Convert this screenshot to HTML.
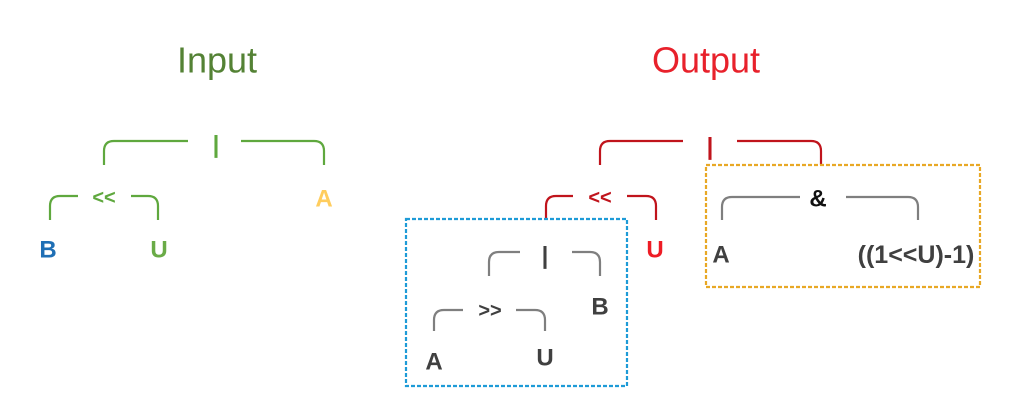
<!DOCTYPE html>
<html><head><meta charset="utf-8"><style>
html,body{margin:0;padding:0;background:#fff;width:1024px;height:416px;overflow:hidden}
svg{display:block}
text{font-family:"Liberation Sans",sans-serif;text-anchor:middle;dominant-baseline:central}
</style></head><body>
<svg width="1024" height="416" viewBox="0 0 1024 416" xmlns="http://www.w3.org/2000/svg">
<g fill="none" stroke-width="2.2">
 <path d="M188 141 H114 Q104 141 104 151 V165" stroke="#5fa83e"/>
 <path d="M241 141 H314 Q324 141 324 151 V165" stroke="#5fa83e"/>
 <path d="M78 196 H60 Q50 196 50 206 V220" stroke="#5fa83e"/>
 <path d="M131 196 H148 Q158 196 158 206 V220" stroke="#5fa83e"/>
 <path d="M683 141 H610 Q600 141 600 151 V165" stroke="#c0141c"/>
 <path d="M737 141 H811 Q821 141 821 151 V165" stroke="#c0141c"/>
 <path d="M573 196 H556 Q546 196 546 206 V219" stroke="#c0141c"/>
 <path d="M627 196 H646 Q656 196 656 206 V220" stroke="#c0141c"/>
 <path d="M800 197 H732 Q722 197 722 207 V220" stroke="#7f7f7f"/>
 <path d="M846 197 H908 Q918 197 918 207 V220" stroke="#7f7f7f"/>
 <path d="M520 252 H499 Q489 252 489 262 V276" stroke="#7f7f7f"/>
 <path d="M572 252 H590 Q600 252 600 262 V276" stroke="#7f7f7f"/>
 <path d="M463 310 H444 Q434 310 434 320 V331" stroke="#7f7f7f"/>
 <path d="M516 310 H535 Q545 310 545 320 V331" stroke="#7f7f7f"/>
 <rect x="706" y="165" width="274" height="122" stroke="#e8a825" stroke-dasharray="4,2"/>
 <rect x="406" y="219" width="221" height="167" stroke="#1e9bd7" stroke-dasharray="4,2"/>
</g>
<text x="217" y="60" font-size="36" fill="#548235">Input</text>
<text x="706" y="60" font-size="36" fill="#e8212b">Output</text>
<g font-weight="bold" font-size="24">
 <text x="216" y="145" fill="#5fa83e">|</text>
 <text x="104" y="198" fill="#5fa83e" font-size="20">&lt;&lt;</text>
 <text x="48" y="250" fill="#1f6fb5">B</text>
 <text x="159" y="250" fill="#6aab47">U</text>
 <text x="324" y="199" fill="#ffcd5e">A</text>
 <text x="710" y="147" fill="#c0141c">|</text>
 <text x="600" y="198" fill="#c0141c" font-size="20">&lt;&lt;</text>
 <text x="655" y="250" fill="#ee1c25">U</text>
 <text x="818" y="199" fill="#111">&amp;</text>
 <text x="721" y="255" fill="#404040">A</text>
 <text x="916" y="255" fill="#404040" font-size="25">((1&lt;&lt;U)-1)</text>
 <text x="545" y="256" fill="#404040">|</text>
 <text x="600" y="307" fill="#404040">B</text>
 <text x="490" y="311" fill="#404040" font-size="20">&gt;&gt;</text>
 <text x="434" y="362" fill="#404040">A</text>
 <text x="545" y="358" fill="#404040">U</text>
</g>
</svg>
</body></html>
